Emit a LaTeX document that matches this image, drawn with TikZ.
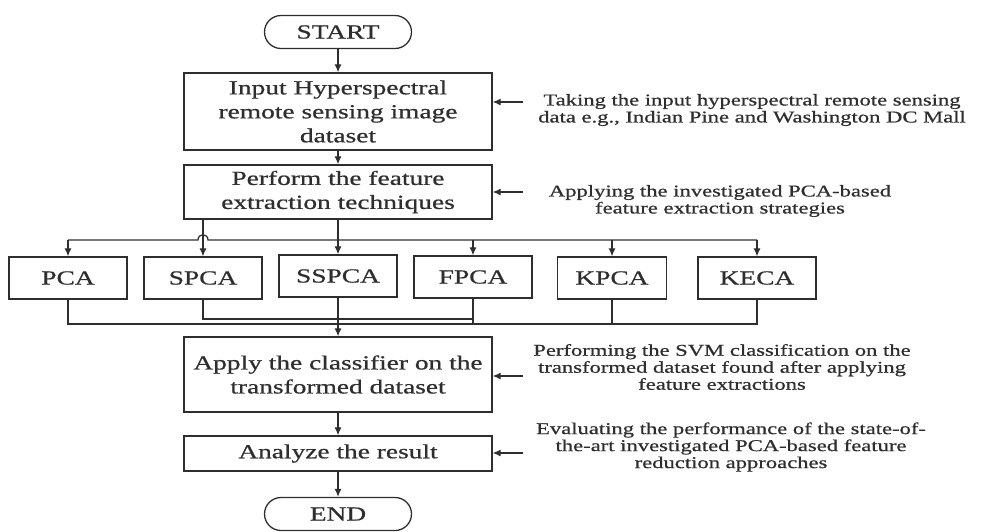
\documentclass[tikz,border=0pt]{standalone}
\usepackage{fontspec}
\setmainfont{Liberation Serif}[FakeStretch=1.37, FakeBold=0.7]
\usetikzlibrary{arrows.meta,calc}
\definecolor{ink}{HTML}{2E2E2E}

\begin{document}
\begin{tikzpicture}[x=1pt,y=-1pt, color=ink, line width=1.25pt,
  proc/.style={draw, line width=1.3pt, align=center, inner sep=0pt,
    minimum width=308pt, font=\fontsize{20}{24}\selectfont},
  term/.style={draw, line width=1.3pt, rounded corners=16.5pt,
    minimum width=147pt, minimum height=33pt, inner sep=0pt,
    font=\fontsize{20}{24}\selectfont},
  alg/.style={draw, line width=1.3pt, inner sep=0pt,
    minimum width=118pt, minimum height=42pt, font=\fontsize{20}{24}\selectfont},
  note/.style={align=center, inner sep=0pt,
    font=\fontsize{16.5}{17}\selectfont},
  arr/.style={-{Latex[length=8pt,width=7pt]}}]

\useasboundingbox (0,0) rectangle (985,531);

% main column
\node[term] (start) at (338,32) {START};
\node[proc, minimum height=77pt] (input) at (338,111.5)
  {Input Hyperspectral\\remote sensing image\\dataset};
\node[proc, minimum height=54pt] (perform) at (338,192)
  {Perform the feature\\extraction techniques};

% feature extraction techniques
\node[alg] (pca)   at (68,278)  {PCA};
\node[alg] (spca)  at (203,278) {SPCA};
\node[alg] (sspca) at (338,276) {SSPCA};
\node[alg] (fpca)  at (473,277) {FPCA};
\node[alg, minimum width=109pt] (kpca) at (612,278) {KPCA};
\node[alg] (keca)  at (757,278) {KECA};

\node[proc, minimum height=75pt] (apply) at (338,374.5)
  {Apply the classifier on the\\transformed dataset};
\node[proc, minimum height=35pt] (analyze) at (338,453.5) {Analyze the result};
\node[term] (end) at (338,514) {END};

% side notes
\node[note] (n1) at (752,110)
  {Taking the input hyperspectral remote sensing\\data e.g., Indian Pine and Washington DC Mall};
\node[note] (n2) at (720,201)
  {Applying the investigated PCA-based\\feature extraction strategies};
\node[note] (n3) at (722,367)
  {Performing the SVM classification on the\\transformed dataset found after applying\\feature extractions};
\node[note] (n4) at (731,447)
  {Evaluating the performance of the state-of-\\the-art investigated PCA-based feature\\reduction approaches};

\coordinate (a1) at (523,102);
\coordinate (a2) at (523,192);
\coordinate (a3) at (523,376);
\coordinate (a4) at (523,453);
\draw[arr] (a1) -- (a1 -| input.east);
\draw[arr] (a2) -- (a2 -| perform.east);
\draw[arr] (a3) -- (a3 -| apply.east);
\draw[arr] (a4) -- (a4 -| analyze.east);

% main flow
\draw[arr] (start.south) -- (input.north);
\draw[arr] (input.south) -- (perform.north);

% branching to the techniques
\coordinate (hub) at (338,240);
\draw[arr] (perform.south) -- (sspca.north);
\draw[arr] (perform.south -| spca) -- (spca.north);
\draw (keca |- hub) -- ($(spca |- hub)+(5,0)$)
  .. controls +(0,-7) and +(0,-7) .. ($(spca |- hub)+(-5,0)$) -- (pca |- hub);
\draw[arr] (pca |- hub) -- (pca.north);
\draw[arr] (fpca |- hub) -- (fpca.north);
\draw[arr] (kpca |- hub) -- (kpca.north);
\draw[arr] (keca |- hub) -- (keca.north);

% merging into the classifier
\coordinate (mu) at (0,319);
\coordinate (ml) at (0,324);
\draw (spca.south) -- (spca |- mu) -- (fpca |- mu);
\draw (fpca.south) -- (fpca |- ml);
\draw (pca.south) -- (pca |- ml) -- (keca |- ml) -- (keca.south);
\draw (kpca.south) -- (kpca |- ml);
\draw[arr] (sspca.south) -- (apply.north);

\draw[arr] (apply.south) -- (analyze.north);
\draw[arr] (analyze.south) -- (end.north);
\end{tikzpicture}
\end{document}
